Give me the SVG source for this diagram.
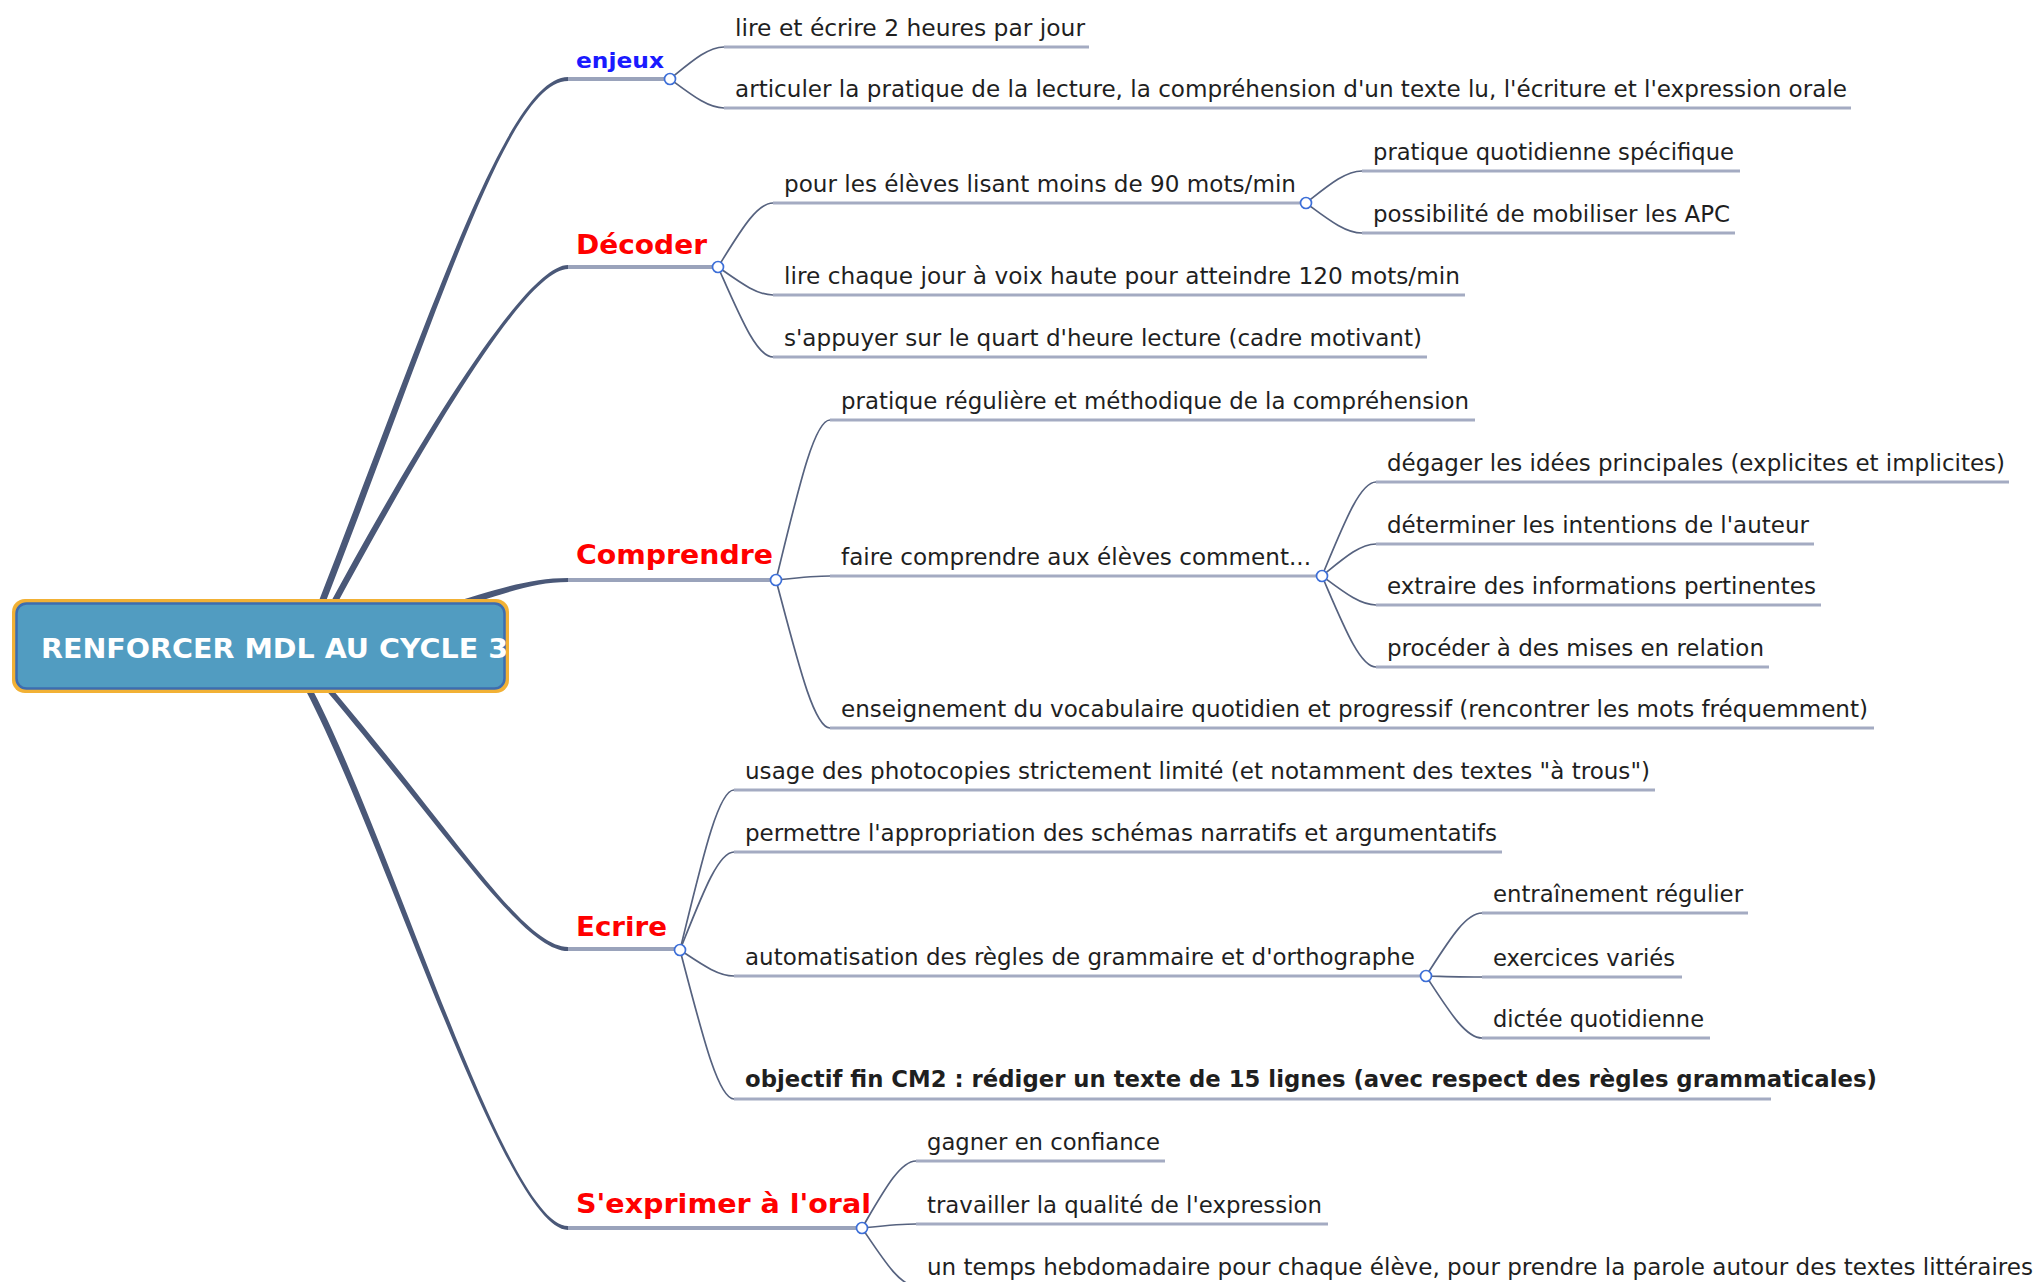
<svg xmlns="http://www.w3.org/2000/svg" width="2039" height="1282" viewBox="0 0 2039 1282">
<style>
.t{font-family:"DejaVu Sans","Liberation Sans",sans-serif;font-size:23px;fill:#1f1f1f}
.tb{font-weight:bold}
.mt{font-family:"DejaVu Sans","Liberation Sans",sans-serif;font-weight:bold;font-size:27px;fill:#ff0000}
.ul{stroke:#a4abc2;stroke-width:3;fill:none}
.mul{stroke:#9aa3bb;stroke-width:4;fill:none}
.br{fill:none;stroke:#56627f;stroke-width:1.7}
.trunk{fill:#4a5878}
.knob{fill:#ffffff;stroke:#3d6fd8;stroke-width:1.7}
</style>
<rect width="2039" height="1282" fill="#ffffff"/>
<g id="connectors">
  <path class="trunk" d="M315.4,610 C434.4,304 508,77 568,77 L568,81 C508,81 441.6,304 322.6,610 Z"/>
  <path class="trunk" d="M326.4,610 C428.4,422 528,265 568,265 L568,269 C528,269 435.6,422 333.6,610 Z"/>
  <path class="trunk" d="M440,606.5 C500,588.5 530,578 568,578 L568,582 C530,582 500,595.5 440,613.5 Z"/>
  <path class="trunk" d="M319,682 C448.4,834 523,951 568,951 L568,947 C523,947 455.6,834 326.2,682 Z"/>
  <path class="trunk" d="M301.3,682 C381.4,830 505,1230 568,1230 L568,1226 C505,1226 388.6,830 308.5,682 Z"/>
  <path class="br" d="M670,79 C691.6,61.4 707.8,47 724,47"/>
  <path class="br" d="M670,79 C691.6,95 707.8,108 724,108"/>
  <path class="br" d="M718,267 C740,231.8 756.5,203 773,203"/>
  <path class="br" d="M718,267 C740,282.4 756.5,295 773,295"/>
  <path class="br" d="M718,267 C740,316.5 756.5,357 773,357"/>
  <path class="br" d="M1306,203 C1328.4,185.4 1345.2,171 1362,171"/>
  <path class="br" d="M1306,203 C1328.4,219.5 1345.2,233 1362,233"/>
  <path class="br" d="M776,580 C797.6,492 813.8,420 830,420"/>
  <path class="br" d="M776,580 C797.6,577.8 813.8,576 830,576"/>
  <path class="br" d="M776,580 C797.6,661.4 813.8,728 830,728"/>
  <path class="br" d="M1322,576 C1343.6,524.3 1359.8,482 1376,482"/>
  <path class="br" d="M1322,576 C1343.6,558.4 1359.8,544 1376,544"/>
  <path class="br" d="M1322,576 C1343.6,592 1359.8,605 1376,605"/>
  <path class="br" d="M1322,576 C1343.6,626 1359.8,667 1376,667"/>
  <path class="br" d="M680,950 C701.6,862 717.8,790 734,790"/>
  <path class="br" d="M680,950 C701.6,896.1 717.8,852 734,852"/>
  <path class="br" d="M680,950 C701.6,964.3 717.8,976 734,976"/>
  <path class="br" d="M680,950 C701.6,1032 717.8,1099 734,1099"/>
  <path class="br" d="M1426,976 C1448.4,941.4 1465.2,913 1482,913"/>
  <path class="br" d="M1426,976 C1448.4,976.5 1465.2,977 1482,977"/>
  <path class="br" d="M1426,976 C1448.4,1010.1 1465.2,1038 1482,1038"/>
  <path class="br" d="M862,1228 C883.6,1191.2 899.8,1161 916,1161"/>
  <path class="br" d="M862,1228 C883.6,1225.8 899.8,1224 916,1224"/>
  <path class="br" d="M862,1228 C883.6,1259.9 899.8,1286 916,1286"/>
</g>
<g id="root">
  <rect x="12" y="599" width="497" height="94" rx="13" fill="#f2b135"/>
  <rect x="16.5" y="603.5" width="488" height="85" rx="10" fill="#519cc1" stroke="#3d6db0" stroke-width="2.5"/>
  <text x="41" y="658" font-family="DejaVu Sans, Liberation Sans, sans-serif" font-weight="bold" font-size="27" fill="#ffffff" textLength="467" lengthAdjust="spacingAndGlyphs">RENFORCER MDL AU CYCLE 3</text>
</g>
<g id="enjeux">
  <line class="mul" x1="568" y1="79" x2="670" y2="79"/>
  <text class="mt" x="576" y="68" style="fill:#1a1aff;font-size:22px" textLength="88" lengthAdjust="spacingAndGlyphs">enjeux</text>
  <circle class="knob" cx="670" cy="79" r="5.5"/>
</g>
<g id="decoder">
  <line class="mul" x1="568" y1="267" x2="718" y2="267"/>
  <text class="mt" x="576" y="254" textLength="131" lengthAdjust="spacingAndGlyphs">Décoder</text>
  <circle class="knob" cx="718" cy="267" r="5.5"/>
</g>
<g id="comprendre">
  <line class="mul" x1="568" y1="580" x2="776" y2="580"/>
  <text class="mt" x="576" y="564" textLength="197" lengthAdjust="spacingAndGlyphs">Comprendre</text>
  <circle class="knob" cx="776" cy="580" r="5.5"/>
</g>
<g id="ecrire">
  <line class="mul" x1="568" y1="949" x2="680" y2="949"/>
  <text class="mt" x="576" y="936" textLength="91" lengthAdjust="spacingAndGlyphs">Ecrire</text>
  <circle class="knob" cx="680" cy="950" r="5.5"/>
</g>
<g id="exprimer">
  <line class="mul" x1="568" y1="1228" x2="862" y2="1228"/>
  <text class="mt" x="576" y="1213" textLength="295" lengthAdjust="spacingAndGlyphs">S'exprimer à l'oral</text>
  <circle class="knob" cx="862" cy="1228" r="5.5"/>
</g>
<g id="n-lire-ecrire">
  <line class="ul" x1="724" y1="47" x2="1089" y2="47"/>
  <text class="t" x="735" y="36" textLength="350" lengthAdjust="spacingAndGlyphs">lire et écrire 2 heures par jour</text>
</g>
<g id="n-articuler">
  <line class="ul" x1="724" y1="108" x2="1851" y2="108"/>
  <text class="t" x="735" y="97" textLength="1112" lengthAdjust="spacingAndGlyphs">articuler la pratique de la lecture, la compréhension d'un texte lu, l'écriture et l'expression orale</text>
</g>
<g id="n-pour-eleves">
  <line class="ul" x1="773" y1="203" x2="1306" y2="203"/>
  <text class="t" x="784" y="192" textLength="512" lengthAdjust="spacingAndGlyphs">pour les élèves lisant moins de 90 mots/min</text>
  <circle class="knob" cx="1306" cy="203" r="5.5"/>
</g>
<g id="n-lire-chaque-jour">
  <line class="ul" x1="773" y1="295" x2="1465" y2="295"/>
  <text class="t" x="784" y="284" textLength="676" lengthAdjust="spacingAndGlyphs">lire chaque jour à voix haute pour atteindre 120 mots/min</text>
</g>
<g id="n-quart-heure">
  <line class="ul" x1="773" y1="357" x2="1427" y2="357"/>
  <text class="t" x="784" y="346" textLength="638" lengthAdjust="spacingAndGlyphs">s'appuyer sur le quart d'heure lecture (cadre motivant)</text>
</g>
<g id="n-pratique-quotidienne">
  <line class="ul" x1="1362" y1="171" x2="1740" y2="171"/>
  <text class="t" x="1373" y="160" textLength="361" lengthAdjust="spacingAndGlyphs">pratique quotidienne spécifique</text>
</g>
<g id="n-apc">
  <line class="ul" x1="1362" y1="233" x2="1735" y2="233"/>
  <text class="t" x="1373" y="222" textLength="357" lengthAdjust="spacingAndGlyphs">possibilité de mobiliser les APC</text>
</g>
<g id="n-pratique-reguliere">
  <line class="ul" x1="830" y1="420" x2="1475" y2="420"/>
  <text class="t" x="841" y="409" textLength="628" lengthAdjust="spacingAndGlyphs">pratique régulière et méthodique de la compréhension</text>
</g>
<g id="n-faire-comprendre">
  <line class="ul" x1="830" y1="576" x2="1322" y2="576"/>
  <text class="t" x="841" y="565" textLength="470" lengthAdjust="spacingAndGlyphs">faire comprendre aux élèves comment...</text>
  <circle class="knob" cx="1322" cy="576" r="5.5"/>
</g>
<g id="n-vocabulaire">
  <line class="ul" x1="830" y1="728" x2="1874" y2="728"/>
  <text class="t" x="841" y="717" textLength="1027" lengthAdjust="spacingAndGlyphs">enseignement du vocabulaire quotidien et progressif (rencontrer les mots fréquemment)</text>
</g>
<g id="n-idees">
  <line class="ul" x1="1376" y1="482" x2="2009" y2="482"/>
  <text class="t" x="1387" y="471" textLength="618" lengthAdjust="spacingAndGlyphs">dégager les idées principales (explicites et implicites)</text>
</g>
<g id="n-intentions">
  <line class="ul" x1="1376" y1="544" x2="1814" y2="544"/>
  <text class="t" x="1387" y="533" textLength="422" lengthAdjust="spacingAndGlyphs">déterminer les intentions de l'auteur</text>
</g>
<g id="n-informations">
  <line class="ul" x1="1376" y1="605" x2="1821" y2="605"/>
  <text class="t" x="1387" y="594" textLength="429" lengthAdjust="spacingAndGlyphs">extraire des informations pertinentes</text>
</g>
<g id="n-relation">
  <line class="ul" x1="1376" y1="667" x2="1769" y2="667"/>
  <text class="t" x="1387" y="656" textLength="377" lengthAdjust="spacingAndGlyphs">procéder à des mises en relation</text>
</g>
<g id="n-photocopies">
  <line class="ul" x1="734" y1="790" x2="1655" y2="790"/>
  <text class="t" x="745" y="779" textLength="905" lengthAdjust="spacingAndGlyphs">usage des photocopies strictement limité (et notamment des textes "à trous")</text>
</g>
<g id="n-schemas">
  <line class="ul" x1="734" y1="852" x2="1502" y2="852"/>
  <text class="t" x="745" y="841" textLength="752" lengthAdjust="spacingAndGlyphs">permettre l'appropriation des schémas narratifs et argumentatifs</text>
</g>
<g id="n-automatisation">
  <line class="ul" x1="734" y1="976" x2="1426" y2="976"/>
  <text class="t" x="745" y="965" textLength="670" lengthAdjust="spacingAndGlyphs">automatisation des règles de grammaire et d'orthographe</text>
  <circle class="knob" cx="1426" cy="976" r="5.5"/>
</g>
<g id="n-objectif">
  <line class="ul" x1="734" y1="1099" x2="1771" y2="1099"/>
  <text class="t tb" x="745" y="1087" textLength="1132" lengthAdjust="spacingAndGlyphs">objectif fin CM2 : rédiger un texte de 15 lignes (avec respect des règles grammaticales)</text>
</g>
<g id="n-entrainement">
  <line class="ul" x1="1482" y1="913" x2="1748" y2="913"/>
  <text class="t" x="1493" y="902" textLength="250" lengthAdjust="spacingAndGlyphs">entraînement régulier</text>
</g>
<g id="n-exercices">
  <line class="ul" x1="1482" y1="977" x2="1682" y2="977"/>
  <text class="t" x="1493" y="966" textLength="182" lengthAdjust="spacingAndGlyphs">exercices variés</text>
</g>
<g id="n-dictee">
  <line class="ul" x1="1482" y1="1038" x2="1710" y2="1038"/>
  <text class="t" x="1493" y="1027" textLength="211" lengthAdjust="spacingAndGlyphs">dictée quotidienne</text>
</g>
<g id="n-confiance">
  <line class="ul" x1="916" y1="1161" x2="1165" y2="1161"/>
  <text class="t" x="927" y="1150" textLength="233" lengthAdjust="spacingAndGlyphs">gagner en confiance</text>
</g>
<g id="n-qualite">
  <line class="ul" x1="916" y1="1224" x2="1328" y2="1224"/>
  <text class="t" x="927" y="1213" textLength="395" lengthAdjust="spacingAndGlyphs">travailler la qualité de l'expression</text>
</g>
<g id="n-temps">
  <line class="ul" x1="916" y1="1286" x2="2037" y2="1286"/>
  <text class="t" x="927" y="1275" textLength="1106" lengthAdjust="spacingAndGlyphs">un temps hebdomadaire pour chaque élève, pour prendre la parole autour des textes littéraires</text>
</g>
</svg>
